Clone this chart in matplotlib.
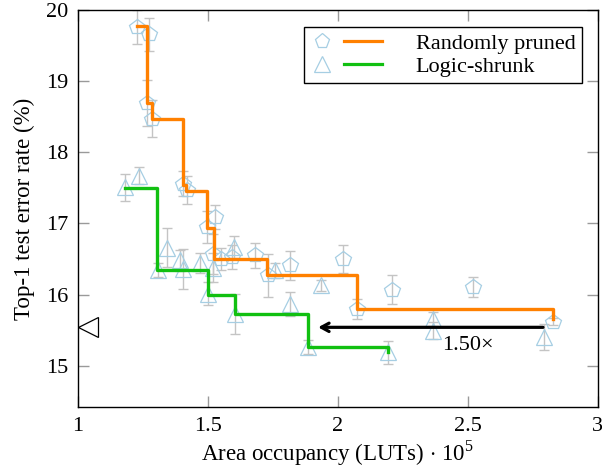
import matplotlib
matplotlib.use("Agg")
import matplotlib.pyplot as plt
from matplotlib.lines import Line2D
from matplotlib.legend_handler import HandlerBase

plt.rcParams['font.family'] = ['Liberation Serif', 'DejaVu Serif']
plt.rcParams['mathtext.fontset'] = 'custom'
plt.rcParams['mathtext.rm'] = 'Liberation Serif'

# randomly pruned networks: area (1e5 LUTs), top-1 error (%), std
rand_x = [1.227, 1.276, 1.268, 1.287, 1.406, 1.420, 1.497, 1.528, 1.522, 1.550,
          1.593, 1.682, 1.731, 1.817, 2.020, 2.073, 2.210, 2.520, 2.827]
rand_y = [19.76, 19.66, 18.69, 18.47, 17.56, 17.47, 16.95, 17.09, 16.57, 16.50,
          16.53, 16.55, 16.27, 16.41, 16.50, 15.80, 16.07, 16.11, 15.62]
rand_err = [0.24, 0.23, 0.32, 0.26, 0.18, 0.20, 0.22, 0.17, 0.28, 0.15,
            0.17, 0.18, 0.30, 0.20, 0.20, 0.14, 0.20, 0.14, 0.05]

# logic-shrunk networks
shr_x = [1.182, 1.236, 1.308, 1.345, 1.394, 1.407, 1.471, 1.522, 1.503, 1.600,
         1.605, 1.759, 1.817, 1.936, 1.887, 2.193, 2.368, 2.368, 2.794]
shr_y = [17.51, 17.67, 16.35, 16.66, 16.48, 16.36, 16.45, 16.38, 16.01, 16.67,
         15.73, 16.34, 15.87, 16.13, 15.26, 15.19, 15.66, 15.49, 15.40]
shr_err = [0.19, 0.12, 0.10, 0.27, 0.15, 0.28, 0.14, 0.20, 0.16, 0.15,
           0.28, 0.10, 0.17, 0.08, 0.10, 0.16, 0.10, 0.12, 0.18]

# pareto fronts (step lines)
rand_front_x = [1.227, 1.268, 1.285, 1.404, 1.417, 1.497, 1.525, 1.730, 2.076, 2.830]
rand_front_y = [19.77, 18.69, 18.47, 17.54, 17.46, 16.94, 16.50, 16.27, 15.80, 15.66]
shr_front_x = [1.182, 1.306, 1.503, 1.605, 1.887, 2.193]
shr_front_y = [17.50, 16.34, 16.00, 15.73, 15.27, 15.19]

# reference model and the 1.50x arrow
ref_x, ref_y = 1.04, 15.54
arrow_from, arrow_to, arrow_y = 2.79, 1.925, 15.54
arrow_label = "1.50×"

orange = "#ff8000"
green = "#11c011"
mk_col = "#a6cee3"
err_col = "#c4c4c4"


class MarkerLine(HandlerBase):
    # legend entry: open marker on the left, then a short line
    def create_artists(self, legend, orig_handle, xdescent, ydescent, width, height, fontsize, trans):
        marker, color = orig_handle.marker, orig_handle.color
        y = height / 2 - ydescent
        m = Line2D([-xdescent + 8], [y], marker=marker, ms=11, mfc="none",
                   mec=mk_col, mew=0.9, ls="none", transform=trans)
        l = Line2D([-xdescent + 24, -xdescent + width - 10], [y, y], color=color,
                   lw=2.3, transform=trans)
        return [m, l]


class Entry:
    def __init__(self, marker, color):
        self.marker = marker
        self.color = color


fig = plt.figure(figsize=(6.02, 4.72), dpi=100)
ax = fig.add_axes([0.1289, 0.1377, 0.8638, 0.8411])

ax.errorbar(rand_x, rand_y, yerr=rand_err, fmt="none", ecolor=err_col,
            elinewidth=1.0, capsize=3.5, capthick=1.0, zorder=1)
ax.errorbar(shr_x, shr_y, yerr=shr_err, fmt="none", ecolor=err_col,
            elinewidth=1.0, capsize=3.5, capthick=1.0, zorder=1)
ax.plot(rand_x, rand_y, "p", ms=11.5, mfc="none", mec=mk_col, mew=0.9, zorder=2)
ax.plot(shr_x, shr_y, "^", ms=11, mfc="none", mec=mk_col, mew=0.9, zorder=2)

ax.step(rand_front_x, rand_front_y, where="post", color=orange, lw=2.4, zorder=3)
ax.step(shr_front_x, shr_front_y, where="post", color=green, lw=2.4, zorder=3)

ax.plot([ref_x], [ref_y], "<", ms=15, mfc="none", mec="black", mew=0.9, zorder=3)
ax.annotate("", xy=(arrow_to, arrow_y), xytext=(arrow_from, arrow_y),
            arrowprops=dict(arrowstyle="->,head_length=0.55,head_width=0.3",
                            color="black", lw=2.3, shrinkA=0, shrinkB=0), zorder=4)
ax.text(2.50, 15.28, arrow_label, ha="center", va="center", fontsize=16)

ax.set_xlim(1, 3)
ax.set_ylim(14.42, 20)
ax.set_xticks([1, 1.5, 2, 2.5, 3])
ax.set_xticklabels(["1", "1.5", "2", "2.5", "3"])
ax.set_yticks([15, 16, 17, 18, 19, 20])
ax.tick_params(direction="in", length=8, width=1, color="#9a9a9a",
               top=True, right=True, labelsize=16, pad=7)
for s in ax.spines.values():
    s.set_linewidth(1.0)

ax.set_xlabel(r"Area occupancy (LUTs) $\cdot$ 10$^5$", fontsize=16.5, labelpad=2)
ax.set_ylabel("Top-1 test error rate (%)", fontsize=16.5, labelpad=8)

handles = [Entry("p", orange), Entry("^", green)]
leg = ax.legend(handles, ["Randomly pruned", "Logic-shrunk"],
                handler_map={Entry: MarkerLine()},
                loc="upper right", bbox_to_anchor=(0.970, 0.958), borderaxespad=0,
                fontsize=16, handlelength=3.8, handletextpad=0.9, fancybox=False,
                edgecolor="black", framealpha=1, borderpad=0.3, labelspacing=0.1)
leg.get_frame().set_linewidth(1.0)

fig.savefig("out.png", dpi=100)
